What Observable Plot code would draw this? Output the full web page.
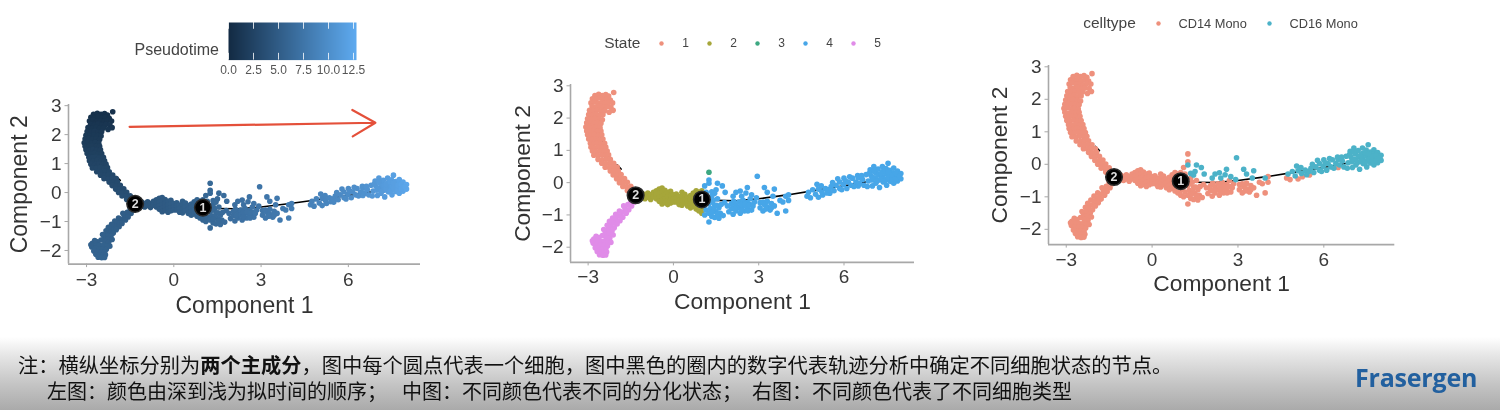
<!DOCTYPE html>
<html lang="zh">
<head>
<meta charset="utf-8">
<script src="https://cdn.jsdelivr.net/npm/d3@7"></script>
<script src="https://cdn.jsdelivr.net/npm/@observablehq/plot@0.6"></script>
<style>
html,body{margin:0;padding:0;background:#fff;width:1500px;height:410px;overflow:hidden;font-family:"Liberation Sans",Arial,sans-serif}
.slot{position:absolute;filter:blur(.55px)}
.slot svg{display:block;background:transparent;overflow:visible}
#foot{position:absolute;left:0;top:337px;width:1500px;height:73px;background:linear-gradient(#fff 0,#e6e6e6 25%,#c4c4c4 65%,#aaa 100%)}
.note{position:absolute;font-family:"Noto Sans CJK SC",sans-serif;font-size:20px;line-height:24px;color:#111;white-space:pre;filter:blur(.45px)}
#logo{position:absolute;left:1355px;top:360px;font-family:"Open Sans",sans-serif;font-weight:700;font-size:25px;line-height:34px;color:#22609f;letter-spacing:-.2px;filter:blur(.4px)}
</style>
</head>
<body>
<div id="foot"></div>
<div class="note" style="left:18px;top:353px;font-size:20.25px">注：横纵坐标分别为<b>两个主成分</b>，图中每个圆点代表一个细胞，图中黑色的圈内的数字代表轨迹分析中确定不同细胞状态的节点。</div>
<div class="note" style="left:47px;top:379px">左图：颜色由深到浅为拟时间的顺序；</div>
<div class="note" style="left:402px;top:379px">中图：不同颜色代表不同的分化状态；</div>
<div class="note" style="left:752px;top:379px">右图：不同颜色代表了不同细胞类型</div>
<div id="logo">Frasergen</div>
<script>
// ---- [component 1, component 2, pseudotime] ----
const upperBranch = [
[-2.1,2.79,.6],
[-2.76,2.7,.6],[-2.63,2.74,.6],[-2.5,2.7,.6],[-2.38,2.73,.6],[-2.28,2.68,.6],
[-2.85,2.6,.7],[-2.72,2.58,.7],[-2.6,2.62,.7],[-2.47,2.57,.7],[-2.35,2.6,.7],[-2.22,2.56,.7],
[-2.9,2.47,.8],[-2.78,2.5,.8],[-2.65,2.46,.8],[-2.52,2.48,.8],[-2.4,2.45,.8],[-2.28,2.49,.8],[-2.14,2.47,.8],
[-2.86,2.36,1],[-2.73,2.34,1],[-2.6,2.37,1],[-2.47,2.33,1],[-2.34,2.35,1],[-2.2,2.33,1],[-2.12,2.24,1],
[-2.95,2.24,1.1],[-2.82,2.22,1.1],[-2.68,2.25,1.1],[-2.55,2.21,1.1],[-2.42,2.23,1.1],[-2.26,2.18,1.1],
[-2.98,2.11,1.3],[-2.85,2.09,1.3],[-2.72,2.12,1.3],[-2.6,2.08,1.3],[-2.48,2.1,1.3],
[-3.02,1.98,1.4],[-2.88,1.96,1.4],[-2.75,1.99,1.4],[-2.62,1.97,1.4],[-2.5,1.95,1.4],
[-3.05,1.85,1.5],[-2.92,1.87,1.5],[-2.8,1.84,1.5],[-2.68,1.86,1.5],[-2.55,1.83,1.5],
[-3.08,1.72,1.7],[-2.95,1.74,1.7],[-2.82,1.71,1.7],[-2.7,1.73,1.7],[-2.58,1.7,1.7],
[-3.05,1.6,1.8],[-2.92,1.58,1.8],[-2.8,1.61,1.8],[-2.67,1.59,1.8],[-2.55,1.6,1.8],
[-3.02,1.48,2],[-2.9,1.46,2],[-2.78,1.49,2],[-2.65,1.47,2],[-2.52,1.48,2],
[-2.98,1.35,2.1],[-2.85,1.34,2.1],[-2.72,1.36,2.1],[-2.6,1.33,2.1],[-2.48,1.35,2.1],
[-2.92,1.22,2.3],[-2.8,1.21,2.3],[-2.68,1.23,2.3],[-2.55,1.2,2.3],[-2.42,1.22,2.3],
[-2.9,1.1,2.4],[-2.77,1.08,2.4],[-2.64,1.11,2.4],[-2.5,1.09,2.4],[-2.38,1.1,2.4],
[-2.85,.98,2.5],[-2.72,.96,2.5],[-2.58,.99,2.5],[-2.45,.97,2.5],[-2.33,.98,2.5],
[-2.8,.85,2.7],[-2.66,.84,2.7],[-2.52,.86,2.7],[-2.38,.84,2.7],[-2.28,.86,2.7],
[-2.65,.72,2.8],[-2.5,.71,2.8],[-2.36,.73,2.8],[-2.22,.72,2.8],
[-2.52,.6,2.9],[-2.38,.59,2.9],[-2.24,.61,2.9],[-2.1,.6,2.9],
[-2.4,.48,3],[-2.26,.47,3],[-2.12,.49,3],[-1.98,.48,3],
[-2.22,.36,3.1],[-2.08,.35,3.1],[-1.94,.37,3.1],
[-2.12,.24,3.2],[-1.98,.23,3.2],[-1.84,.25,3.2],
[-2,.12,3.3],[-1.86,.11,3.3],[-1.72,.13,3.3],
[-1.9,0,3.5],[-1.76,-.01,3.5],[-1.62,.01,3.5],
[-1.78,-.12,3.6],[-1.64,-.13,3.6],[-1.5,-.11,3.6],
[-1.62,-.24,3.8],[-1.48,-.25,3.8],[-1.5,-.35,3.9],[-1.38,-.34,3.9]
];
const lowerBranch = [
[-1.5,-.55,4.8],[-1.38,-.6,4.8],[-1.6,-.68,4.9],[-1.47,-.72,4.9],[-1.7,-.8,5],[-1.57,-.84,5],[-1.8,-.92,5],[-1.66,-.95,5],
[-1.92,-1.03,5.1],[-1.78,-1.07,5.1],[-2.02,-1.14,5.1],[-1.88,-1.18,5.1],[-2.12,-1.25,5.2],[-1.98,-1.28,5.2],[-2.22,-1.35,5.2],[-2.08,-1.4,5.2],
[-2.3,-1.47,5.3],[-2.16,-1.5,5.3],[-2.4,-1.58,5.3],[-2.26,-1.6,5.3],[-2.5,-1.64,5.4],[-2.37,-1.7,5.4],[-2.24,-1.72,5.4],[-2.62,-1.7,5.4],
[-2.8,-1.75,5.4],[-2.68,-1.8,5.5],[-2.55,-1.82,5.5],[-2.42,-1.82,5.5],[-2.3,-1.84,5.5],[-2.82,-1.88,5.5],[-2.7,-1.92,5.5],[-2.57,-1.94,5.5],
[-2.44,-1.94,5.5],[-2.32,-1.96,5.5],[-2.75,-2.02,5.6],[-2.62,-2.05,5.6],[-2.5,-2.06,5.6],[-2.38,-2.06,5.6],[-2.68,-2.13,5.6],[-2.56,-2.15,5.6],
[-2.44,-2.15,5.6],[-2.35,-2.15,5.6],[-2.6,-2.23,5.7],[-2.48,-2.25,5.7],[-2.38,-2.24,5.7],
[-1.75,-.72,5],[-1.9,-.88,5],[-2.03,-.98,5.1],[-2.14,-1.1,5.1],[-2.25,-1.2,5.2],[-2.33,-1.32,5.2],[-2.45,-1.45,5.3],[-2.12,-1.62,5.3],
[-2.72,-1.66,5.4],[-2.2,-1.85,5.5],[-2.85,-1.8,5.4]
];
const midBranch = [
[-1.2,-.4,4.2],[-1.1,-.33,4.3],[-1.1,-.47,4.3],[-1,-.38,4.3],[-1,-.5,4.3],[-.9,-.32,4.4],[-.9,-.45,4.4],[-.8,-.38,4.4],[-.8,-.52,4.4],
[-.7,-.3,4.5],[-.7,-.44,4.5],[-.6,-.25,4.5],[-.6,-.37,4.5],[-.6,-.5,4.5],[-.5,-.2,4.6],[-.5,-.33,4.6],[-.5,-.46,4.6],[-.5,-.58,4.6],
[-.4,-.17,4.7],[-.4,-.3,4.7],[-.4,-.42,4.7],[-.4,-.55,4.7],[-.4,-.66,4.7],[-.3,-.24,4.7],[-.3,-.37,4.7],[-.3,-.5,4.7],[-.3,-.62,4.7],
[-.2,-.3,4.8],[-.2,-.43,4.8],[-.2,-.56,4.8],[-.2,-.68,4.8],[-.1,-.27,4.9],[-.1,-.4,4.9],[-.1,-.53,4.9],[-.1,-.63,4.9],[0,-.38,5],[0,-.5,5],[0,-.6,5],
[.1,-.35,5],[.1,-.47,5],[.1,-.6,5],[.2,-.43,5.1],[.2,-.55,5.1],[.2,-.68,5.1],[.3,-.3,5.2],[.3,-.42,5.2],[.3,-.56,5.2],[.3,-.7,5.2],
[.4,-.36,5.3],[.4,-.5,5.3],[.4,-.63,5.3],[.5,-.45,5.3],[.5,-.58,5.3],[.5,-.72,5.3],[.6,-.4,5.4],[.6,-.52,5.4],[.6,-.65,5.4],[.6,-.78,5.4],
[.7,-.32,5.5],[.7,-.46,5.5],[.7,-.6,5.5],[.7,-.74,5.5],[.8,-.25,5.6],[.8,-.4,5.6],[.8,-.55,5.6],[.8,-.68,5.6],[.8,-.82,5.6],
[.9,-.3,5.7],[.9,-.5,5.7],[.9,-.65,5.7],[.9,-.88,5.7],[1,-.25,5.8],[1,-.8,5.8],[1,-.95,5.8]
];
const strayState3 = [[1.25,.32,6.2]];
const rightCD14 = [
[1.25,.08,6.2],[1.1,-.1,6],[1.15,-.3,6],[1.15,-.45,6],[1.1,-.7,6],[1.15,-.85,6],[1.1,-1,6],[1.25,-1.22,6.2],[1.25,-.65,6.1],[1.3,-.8,6.2],[1.25,-.95,6.2],
[1.35,-1.05,6.2],[1.4,-.55,6.2],[1.45,-.7,6.3],[1.5,-.9,6.3],[1.45,-1.08,6.3],[1.6,-1.1,6.4],[1.6,-.78,6.4],[1.65,-.95,6.4],[1.8,-.62,6.5],[1.75,-1.02,6.5],
[1.35,-.42,6.2],[1.55,-.5,6.3],[1.95,-.9,6.7],[1.9,-.72,6.7],[2.05,-.8,6.8],[2.05,-.65,6.8],[2.1,-.98,6.8],[2.2,-.7,6.9],[2.2,-.88,6.9],[2.3,-.6,7],[2.3,-.78,7],
[2.35,-.95,7],[2.45,-.72,7.1],[2.45,-.55,7.1],[2.5,-.88,7.1],[2.6,-.62,7.2],[2.6,-.78,7.2],[2.7,-.5,7.3],[2.7,-.68,7.3],[2.75,-.85,7.3],[2.85,-.6,7.4],
[3.05,-.62,7.5],[3.05,-.78,7.5],[3.15,-.88,7.6],[3.2,-.68,7.6],[3.3,-.75,7.7],[3.3,-.58,7.7],[3.4,-.85,7.7],[3.45,-.65,7.8],[3.55,-.72,7.8],[3.75,-.55,8],
[3.85,-.6,8.1],[3.65,-.95,8],[3.95,-.88,8.2],[4.05,-.55,8.2],[4.05,-.38,8.3],
[4.7,-.42,8.8],[4.82,-.47,8.9],[5.1,-.45,9.1],[5.25,-.38,9.2],[5.5,-.33,9.4],[6.5,-.1,10.5],
[1.2,-.55,6.1],[1.32,-.6,6.2],[1.42,-.82,6.3],[1.36,-.92,6.2],[1.55,-.98,6.3],[1.52,-.7,6.3],[1.68,-.68,6.4],[2.12,-.58,6.9],[2.15,-.8,6.9],[2.38,-.68,7],[2.4,-.85,7],[2.52,-.67,7.1],[2.65,-.7,7.2],
[2.62,-.88,7.2],[2.8,-.72,7.4],[3.15,-.6,7.6],[3.25,-.82,7.7],[3.45,-.78,7.8]
];
const rightCD16 = [
[1.25,-.02,6.2],[1.35,-.28,6.2],[1.5,-.22,6.3],[1.55,-.02,6.3],[1.72,-.1,6.5],[1.82,-.3,6.5],[1.45,-.33,6.3],[2.1,-.42,6.8],[2.2,-.3,6.9],[2.35,-.26,7],[2.4,-.42,7],
[2.55,-.32,7.1],[2.6,-.15,7.2],[2.75,-.38,7.3],[2.92,-.47,7.4],[2.95,.2,7.4],[3.2,-.15,7.6],[3.3,-.3,7.7],[3.5,-.42,7.8],[3.55,-.2,7.8],[3.95,-.42,8.2],
[4.75,-.3,8.8],[4.9,-.22,8.9],[5,-.36,9],[5.1,-.2,9],[5.22,-.28,9.1],[5.35,-.18,9.3],[5.4,-.32,9.3],[5.55,-.12,9.4],[5.65,-.25,9.5],[5.72,-.08,9.6],
[5.85,.02,9.7],[5.85,-.18,9.7],[5.98,-.06,9.8],[6,.14,9.8],[6.1,-.18,9.9],[6.15,.02,9.9],[6.25,-.08,10],[6.3,.14,10],[6.42,.02,10.2],[6.5,.15,10.3],[6.55,-.02,10.3],
[6.65,.1,10.5],[6.7,-.08,10.5],[6.78,.25,10.7],[6.85,.05,10.8],[6.82,-.12,10.8],
[6.92,.4,11],[6.95,.22,11],[6.98,.08,11],[7,-.1,11],[7.05,.5,11.2],[7.1,.32,11.2],[7.1,.15,11.2],[7.12,-.02,11.2],[7.2,.42,11.3],[7.22,.25,11.3],[7.24,.08,11.3],[7.25,-.15,11.3],
[7.35,.5,11.5],[7.36,.34,11.5],[7.37,.18,11.5],[7.38,.02,11.5],[7.48,.44,11.7],[7.5,.27,11.7],[7.5,.1,11.7],[7.5,-.08,11.7],[7.55,.6,11.8],[7.62,.38,11.8],[7.62,.2,11.8],[7.63,.04,11.8],
[7.75,.45,12],[7.75,.3,12],[7.76,.14,12],[7.75,-.02,12],[7.88,.36,12.2],[7.88,.2,12.2],[7.88,.05,12.2],[8,.28,12.4],[8,.12,12.4],
[5.05,-.05,9],[5.2,-.1,9.1],[5.48,-.22,9.4],[5.6,0,9.5],[5.78,.12,9.6],[5.92,-.22,9.8],[6.05,.05,9.9],[6.2,.18,10],[6.35,-.12,10.1],[6.48,.22,10.3],[6.62,.22,10.5],
[6.9,.3,10.9],[7.02,.15,11],[7.05,.38,11.1],[7.16,.05,11.2],[7.3,.12,11.4],[7.3,.28,11.4],[7.44,.36,11.6],[7.44,.05,11.6],[7.56,.16,11.7],[7.56,.32,11.7],[7.7,.1,11.9],[7.7,.24,11.9],[7.82,.12,12.1],[7.82,.28,12.1],[7.95,.2,12.3]
];
const trajectoryMain = [[1.5,-.55],[2.2,-.56],[3,-.5],[4,-.38],[5,-.24],[6,-.1],[6.8,.03]];
const trajectoryUpper = [[-2.55,1.45],[-2.42,1.05]];
const trajectoryUpper2 = [[-1.98,.55],[-1.84,.42]];
const trajectoryLower = [[-2.4,-1.6],[-2.3,-1.45]];
const nodeIds = ["1","2"];
const nodeX = [1,-1.33];
const nodeY = [-.52,-.39];
const pseudoArrow = [{x1:-1.52,y1:2.27,x2:6.93,y2:2.41}];
const xTicks = [-3,0,3,6];
const yTicks = [-2,-1,0,1,2,3];
const pseudoTicks = [0,2.5,5,7.5,10,12.5];
const stateNames = ["1","2","3","4","5"];
const stateColors = ["#EE907C","#A6A63A","#3DA882","#47A6E8","#E08CE8"];
const cellTypes = ["CD14 Mono","CD16 Mono"];
const cellTypeColors = ["#EE907C","#4CB2C8"];
const pseudoRange = ["#132B43","#5EAAF0"];

// ---- table ----
const tag = (list, state, type) => list.map(([x,y,t]) => ({x,y,t,state,type}));
const cells = [
  ...tag(upperBranch,"1","CD14 Mono"),
  ...tag(lowerBranch,"5","CD14 Mono"),
  ...tag(midBranch,"2","CD14 Mono"),
  ...tag(strayState3,"3","CD14 Mono"),
  ...tag(rightCD14,"4","CD14 Mono"),
  ...tag(rightCD16,"4","CD16 Mono")
];
const nodes = nodeIds.map((id,i) => ({id,x:nodeX[i],y:nodeY[i]}));
const linear = list => Plot.line(list,{x:d=>d[0],y:d=>d[1],stroke:"#000",strokeWidth:1.6});

const axisColor = "#a8a8a8", tickText = "#3a3a3a", titleText = "#333";

function panel({left, right, top, bottom, fill, color, extras = [], ylabelX, xlabelY, tickY, xFont = 23, tickFont = 19}) {
  const pad = 70, W = right - left + pad*2, slotTop = top - 20, H = bottom - slotTop + 60;
  const host = document.createElement("div");
  host.className = "slot";
  host.style.left = (left - pad) + "px";
  host.style.top = slotTop + "px";
  const plot = Plot.plot({
    width: W, height: H, marginLeft: pad, marginRight: pad, marginTop: top - slotTop, marginBottom: H - (bottom - slotTop),
    style: {background:"transparent", fontFamily:'"Liberation Sans",Arial,sans-serif'},
    x: {domain:[-3.62,8.48]}, y: {domain:[-2.47,3.04]}, color,
    marks: [
      Plot.ruleY([-2.47],{stroke:axisColor,strokeWidth:1.6}),
      Plot.ruleX([-3.62],{stroke:axisColor,strokeWidth:1.6}),
      Plot.axisX({ticks:xTicks,tickSize:3.5,tickPadding:tickY,fontSize:tickFont,label:null,stroke:axisColor,tickFormat:d=>String(d).replace("-","\u2212"),fill:tickText}),
      Plot.axisY({ticks:yTicks,tickSize:3.5,tickPadding:3.5,fontSize:tickFont,label:null,stroke:axisColor,tickFormat:d=>String(d).replace("-","\u2212"),fill:tickText}),
      Plot.text(["Component 1"],{frameAnchor:"bottom",dy:xlabelY,fontSize:xFont,fill:titleText,lineAnchor:"middle"}),
      Plot.text(["Component 2"],{frameAnchor:"left",dx:ylabelX,rotate:-90,fontSize:xFont,fill:titleText,textAnchor:"middle",lineAnchor:"middle"}),
      linear(trajectoryMain), linear(trajectoryUpper), linear(trajectoryUpper2), linear(trajectoryLower),
      Plot.dot(cells,{x:"x",y:"y",r:2.8,fill,stroke:null}),
      ...extras,
      Plot.dot(nodes,{x:"x",y:"y",r:8.3,fill:"#000",stroke:"#2b2b2b"}),
      Plot.text(nodes,{x:"x",y:"y",text:"id",fill:"#ddd",fontSize:12.5,fontWeight:700})
    ]
  });
  host.appendChild(plot);
  document.body.appendChild(host);
}

panel({
  left:68, right:420, top:104, bottom:263.6, fill:"t", ylabelX:-49, xlabelY:41.5, tickY:5,
  color:{type:"linear",domain:[0,12.8],range:pseudoRange},
  extras:[Plot.arrow(pseudoArrow,{x1:"x1",y1:"y1",x2:"x2",y2:"y2",stroke:"#E4503A",strokeWidth:2.2,headLength:18,headAngle:60,bend:0})]
});
panel({
  left:570, right:914, top:84, bottom:261.9, fill:"state", ylabelX:-47.5, xlabelY:39.5, tickY:4, xFont:22.8,
  color:{type:"ordinal",domain:stateNames,range:stateColors}
});
panel({
  left:1047.7, right:1394, top:64.5, bottom:243.6, fill:"type", ylabelX:-48.5, xlabelY:39.5, tickY:4, xFont:22.8,
  color:{type:"ordinal",domain:cellTypes,range:cellTypeColors}
});

// ---- legends ----
function place(left, top, node) {
  const host = document.createElement("div");
  host.className = "slot";
  host.style.left = left + "px";
  host.style.top = top + "px";
  host.appendChild(node);
  document.body.appendChild(host);
}
// Pseudotime colour bar
place(127.7, 21.7, Plot.plot({
  width:240, height:60, marginLeft:100, marginRight:12, marginTop:0, marginBottom:22.4,
  style:{background:"transparent",fontFamily:'"Liberation Sans",Arial,sans-serif'},
  x:{domain:[0,12.8]}, y:{domain:[0,1],axis:null},
  color:{type:"linear",domain:[0,12.8],range:pseudoRange},
  marks:[
    Plot.raster({x1:0,x2:12.8,y1:0,y2:1,pixelSize:1,fill:(x)=>x}),
    Plot.ruleX(pseudoTicks,{y1:0,y2:.18,stroke:"#fff",strokeOpacity:.8}),
    Plot.ruleX(pseudoTicks,{y1:.82,y2:1,stroke:"#fff",strokeOpacity:.8}),
    Plot.axisX({ticks:pseudoTicks,tickSize:0,tickPadding:5,tickFormat:d=>d.toFixed(1),fontSize:12,label:null,fill:"#555"}),
    Plot.text(["Pseudotime"],{frameAnchor:"left",dx:-9.5,dy:9,textAnchor:"end",fontSize:16,fill:"#444"})
  ]
}));
// State dots
place(600, 30, Plot.plot({
  width:290, height:26, margin:0,
  style:{background:"transparent",fontFamily:'"Liberation Sans",Arial,sans-serif'},
  x:{type:"point",axis:null,padding:0,domain:stateNames,range:[61.3,253.3]}, y:{domain:[0,1],axis:null},
  color:{type:"ordinal",domain:stateNames,range:stateColors},
  marks:[
    Plot.dot(stateNames,{x:d=>d,y:()=>.5,r:2.2,fill:d=>d}),
    Plot.text(stateNames,{x:d=>d,y:()=>.5,text:d=>d,dx:24,fontSize:12,fill:"#444"}),
    Plot.text(["State"],{frameAnchor:"left",dx:3.7,fontSize:15.5,fill:"#444",textAnchor:"start"})
  ]
}));
// Cell type dots
place(1080, 10, Plot.plot({
  width:300, height:26, margin:0,
  style:{background:"transparent",fontFamily:'"Liberation Sans",Arial,sans-serif'},
  x:{type:"point",axis:null,padding:0,domain:cellTypes,range:[77.7,189]}, y:{domain:[0,1],axis:null},
  color:{type:"ordinal",domain:cellTypes,range:cellTypeColors},
  marks:[
    Plot.dot(cellTypes,{x:d=>d,y:()=>.5,r:2.2,fill:d=>d}),
    Plot.text(cellTypes,{x:d=>d,y:()=>.5,text:d=>d,dx:20,textAnchor:"start",fontSize:12.8,fill:"#444"}),
    Plot.text(["celltype"],{frameAnchor:"left",dx:2.7,fontSize:15.5,fill:"#444",textAnchor:"start"})
  ]
}));
</script>
</body>
</html>
